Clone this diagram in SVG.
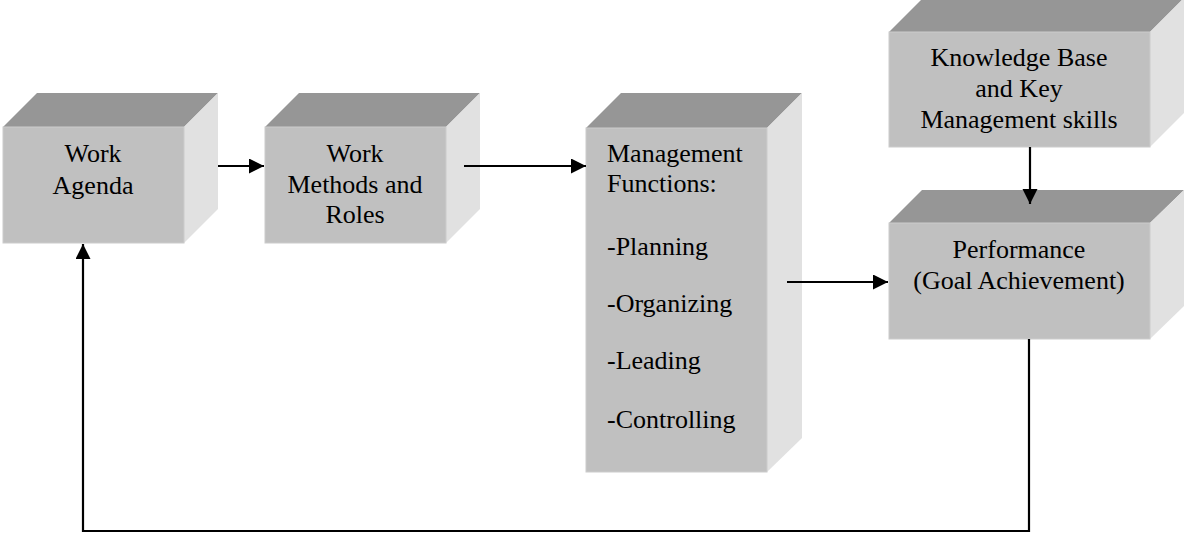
<svg xmlns="http://www.w3.org/2000/svg" width="1184" height="533" viewBox="0 0 1184 533">
<style>
.front{fill:#c0c0c0;stroke:#cccccc;stroke-width:1}
.top{fill:#969696}
.side{fill:#e1e1e1}
text{font-family:"Liberation Serif","Times New Roman",serif;font-size:26px;fill:#000}
.c{text-anchor:middle}
.conn{stroke:#000;stroke-width:2.2;fill:none}
</style>
<defs>
<marker id="ah" markerWidth="16" markerHeight="16" refX="15" refY="7.5" orient="auto" markerUnits="userSpaceOnUse">
<path d="M0,0 L15,7.5 L0,15 Z" fill="#000"/>
</marker>
</defs>
<rect width="1184" height="533" fill="#fff"/>

<g id="work-agenda">
<polygon class="top" points="3,127 37,93 218,93 184,127"/>
<polygon class="side" points="184,127 218,93 218,209 184,243"/>
<rect class="front" x="3" y="127" width="181" height="116"/>
<text class="c" x="93" y="162">Work</text>
<text class="c" x="93" y="194">Agenda</text>
</g>

<g id="work-methods">
<polygon class="top" points="265,127 299,93 480,93 446,127"/>
<polygon class="side" points="446,127 480,93 480,209 446,243"/>
<rect class="front" x="265" y="127" width="181" height="116"/>
<text class="c" x="355" y="162">Work</text>
<text class="c" x="355" y="193">Methods and</text>
<text class="c" x="355" y="223">Roles</text>
</g>

<g id="management-functions">
<polygon class="top" points="586,128 621,93 802,93 767,128"/>
<polygon class="side" points="767,128 802,93 802,438 767,472"/>
<rect class="front" x="586" y="128" width="181" height="344"/>
<text x="607" y="162">Management</text>
<text x="607" y="192">Functions:</text>
<text x="607" y="255">-Planning</text>
<text x="607" y="312">-Organizing</text>
<text x="607" y="369">-Leading</text>
<text x="607" y="428">-Controlling</text>
</g>

<g id="knowledge-base">
<polygon class="top" points="889,32 923,-2 1184,-2 1150,32"/>
<polygon class="side" points="1150,32 1184,-2 1184,113 1150,147"/>
<rect class="front" x="889" y="32" width="261" height="115"/>
<text class="c" x="1019" y="66">Knowledge Base</text>
<text class="c" x="1019" y="97">and Key</text>
<text class="c" x="1019" y="128">Management skills</text>
</g>

<g id="performance">
<polygon class="top" points="889,223 922,190 1184,190 1150,223"/>
<polygon class="side" points="1150,223 1184,190 1184,306 1150,339"/>
<rect class="front" x="889" y="223" width="261" height="116"/>
<text class="c" x="1019" y="258">Performance</text>
<text class="c" x="1019" y="289">(Goal Achievement)</text>
</g>

<g id="connectors">
<line class="conn" x1="218" y1="166" x2="264" y2="166" marker-end="url(#ah)"/>
<line class="conn" x1="464" y1="166" x2="586" y2="166" marker-end="url(#ah)"/>
<line class="conn" x1="787" y1="282" x2="888" y2="282" marker-end="url(#ah)"/>
<line class="conn" x1="1030" y1="147" x2="1030" y2="204" marker-end="url(#ah)"/>
<polyline class="conn" points="1029,339 1029,531 83,531 83,244" marker-end="url(#ah)"/>
</g>
</svg>
